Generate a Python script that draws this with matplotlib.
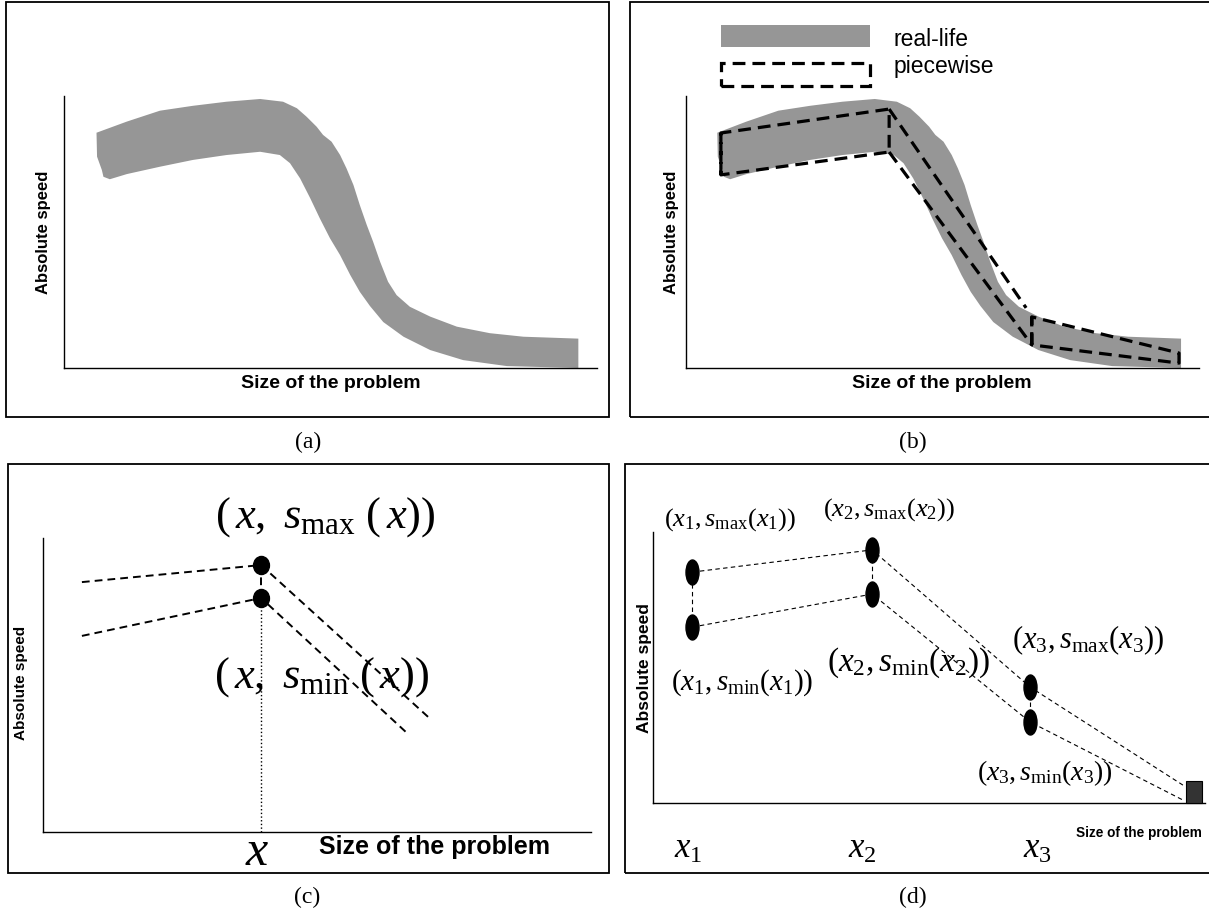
import numpy as np
import matplotlib
matplotlib.use("Agg")
from matplotlib import pyplot as plt
from matplotlib.patches import Rectangle
from matplotlib.path import Path
from matplotlib.transforms import Affine2D

plt.rcParams["mathtext.fontset"] = "custom"
plt.rcParams["mathtext.rm"] = "Liberation Serif"
plt.rcParams["mathtext.it"] = "Liberation Serif:italic"
plt.rcParams["mathtext.bf"] = "Liberation Serif:bold"

# real-life speed band (percent of axis length / height)
band_upper_x = [6.1, 11.8, 18.0, 24.2, 30.5, 36.8, 41.1, 43.7, 45.5, 47.4, 48.6, 50.2,
                51.8, 53.0, 54.3, 55.5, 56.8, 58.0, 59.3, 60.8, 62.4, 64.9, 68.7, 73.7,
                79.9, 86.2, 96.5]
band_upper_y = [86.5, 90.6, 94.6, 96.4, 97.9, 98.9, 97.9, 95.5, 92.4, 88.7, 85.7, 83.2,
                78.3, 73.4, 67.3, 59.9, 52.6, 46.4, 39.1, 31.7, 26.8, 22.5, 18.9, 15.2,
                12.8, 11.5, 10.8]
band_lower_x = [96.5, 83.1, 74.9, 68.7, 63.7, 59.9, 57.4, 55.5, 53.7, 51.8, 49.9, 48.0,
                46.2, 44.3, 42.4, 40.5, 36.8, 30.5, 24.2, 18.0, 11.8, 8.6, 7.4, 7.1, 6.2]
band_lower_y = [0.0, 0.7, 2.9, 6.6, 11.5, 16.9, 22.8, 28.0, 34.2, 41.5, 47.7, 55.0,
                62.4, 69.7, 75.3, 78.3, 79.5, 78.3, 76.5, 74.0, 71.3, 69.4, 70.3, 72.8, 77.7]

# piecewise approximation (b)
pw_left_x = [6.8, 39.6]
pw_left_hi = [86.4, 95.2]
pw_left_lo = [71.0, 79.4]
pw_mid_hi_x = [39.6, 66.3]
pw_mid_hi = [95.2, 22.1]
pw_mid_lo_x = [39.6, 67.4]
pw_mid_lo = [79.4, 8.5]
pw_right_x = [67.4, 96.1]
pw_right_hi = [18.8, 5.5]
pw_right_lo = [8.5, 1.8]

# single point (c)
c_hi_x = [7.1, 39.8, 70.3]
c_hi_y = [85.0, 90.8, 39.1]
c_lo_x = [7.1, 39.8, 66.4]
c_lo_y = [66.7, 79.6, 33.7]
c_point_x = 39.8
c_smax = 90.8
c_smin = 79.6

# three points (d)
d_x = [7.1, 39.7, 68.3, 96.0]
d_smax = [85.2, 93.4, 42.8, 6.6]
d_smin = [64.9, 77.1, 29.9, 1.1]
d_end_x = 98.05
d_end_w = 2.9
d_end_h = 8.1

W, H = 1209, 913
GRAY = "#969696"


def frac(l, t, r, b):
    return [l / W, 1 - b / H, (r - l) / W, (b - t) / H]


def frame(fig, l, t, r, b):
    x, y, w, h = frac(l, t, r, b)
    fig.add_artist(Rectangle((x, y), w, h, transform=fig.transFigure,
                             fill=False, lw=1.3, ec="black"))


def setup(ax):
    ax.set_xlim(0, 100)
    ax.set_ylim(0, 100)
    ax.set_xticks([])
    ax.set_yticks([])
    ax.patch.set_alpha(0)
    for s in ("top", "right"):
        ax.spines[s].set_visible(False)
    for s in ("left", "bottom"):
        ax.spines[s].set_linewidth(1.0)


def draw_band(ax):
    xs = band_upper_x + band_lower_x
    ys = band_upper_y + band_lower_y
    ax.fill(xs, ys, color=GRAY, lw=0, zorder=1)


ellipse_tall = Path.unit_circle().transformed(Affine2D().scale(0.52, 1.0))
ellipse_c = Path.unit_circle().transformed(Affine2D().scale(0.88, 1.0))

fig = plt.figure(figsize=(12.09, 9.13), dpi=100)

frame(fig, 6, 2, 609, 417)
frame(fig, 630, 2, 1215, 417)
frame(fig, 8, 464, 609, 873)
frame(fig, 625, 464, 1215, 873)

for label, (px, py) in zip(["(a)", "(b)", "(c)", "(d)"],
                           [(308, 442), (913, 442), (307, 897), (913, 897)]):
    fig.text(px / W, 1 - py / H, label, ha="center", va="center",
             fontsize=17, family="Liberation Serif")

sans_bold = dict(family="Liberation Sans", fontweight="bold")

# (a)
ax_a = fig.add_axes(frac(64, 96, 597, 368))
setup(ax_a)
draw_band(ax_a)
ax_a.text(50.1, -5.8, "Size of the problem", ha="center", va="center",
          fontsize=14, clip_on=False, **sans_bold)
ax_a.text(-3.8, 50, "Absolute speed", ha="center", va="center", rotation=90,
          fontsize=12, clip_on=False, **sans_bold)

# (b)
ax_b = fig.add_axes(frac(686, 96, 1199, 368))
setup(ax_b)
draw_band(ax_b)
dash_b = dict(color="black", lw=2.3, dashes=(4, 2.2), zorder=3, clip_on=False)
ax_b.plot([pw_left_x[0]] + pw_left_x + pw_left_x[::-1] + [pw_left_x[0]],
          [pw_left_lo[0]] + pw_left_hi + pw_left_lo[::-1] + [pw_left_hi[0]], **dash_b)
ax_b.plot(pw_mid_hi_x, pw_mid_hi, **dash_b)
ax_b.plot(pw_mid_lo_x, pw_mid_lo, **dash_b)
ax_b.plot([pw_right_x[0]] + pw_right_x + pw_right_x[::-1] + [pw_right_x[0]],
          [pw_right_lo[0]] + pw_right_hi + pw_right_lo[::-1] + [pw_right_hi[0]], **dash_b)
ax_b.add_patch(Rectangle((6.8, 118.0), 29.1, 8.1, color=GRAY, lw=0, clip_on=False))
ax_b.add_patch(Rectangle((6.8, 103.7), 29.1, 8.4, fill=False, ec="black",
                         lw=2.3, ls=(0, (4, 2.2)), clip_on=False))
ax_b.text(40.5, 120.6, "real-life", ha="left", va="center", fontsize=16.5,
          family="Liberation Sans", clip_on=False)
ax_b.text(40.5, 111.0, "piecewise", ha="left", va="center", fontsize=16.5,
          family="Liberation Sans", clip_on=False)
ax_b.text(49.9, -5.8, "Size of the problem", ha="center", va="center",
          fontsize=14, clip_on=False, **sans_bold)
ax_b.text(-2.9, 50, "Absolute speed", ha="center", va="center", rotation=90,
          fontsize=12, clip_on=False, **sans_bold)

# (c)
ax_c = fig.add_axes(frac(43, 538, 591, 832))
setup(ax_c)
dash_c = dict(color="black", lw=1.4, dashes=(4, 2.6))
ax_c.plot(c_hi_x, c_hi_y, **dash_c)
ax_c.plot(c_lo_x, c_lo_y, **dash_c)
ax_c.plot([c_point_x, c_point_x], [c_smin, c_smax], **dash_c)
ax_c.plot([c_point_x, c_point_x], [0, c_smin], color="black", lw=1.0, ls=":")
ax_c.plot([c_point_x, c_point_x], [c_smax, c_smin], ls="none", marker=ellipse_c,
          ms=13, color="black", zorder=4)
ax_c.text(51.5, 107.3, r"$(\,x,\ s_{\mathrm{max}}\ (\,x))$", ha="center", va="center",
          fontsize=32, clip_on=False)
ax_c.text(50.9, 52.7, r"$(\,x,\ s_{\mathrm{min}}\ (\,x))$", ha="center", va="center",
          fontsize=32, clip_on=False)
ax_c.text(39.1, -6.5, r"$x$", ha="center", va="center", fontsize=36, clip_on=False)
ax_c.text(71.4, -5.2, "Size of the problem", ha="center", va="center",
          fontsize=18, clip_on=False, **sans_bold)
ax_c.text(-4.0, 50.7, "Absolute speed", ha="center", va="center", rotation=90,
          fontsize=11, clip_on=False, **sans_bold)

# (d)
ax_d = fig.add_axes(frac(653, 532, 1205, 803))
setup(ax_d)
dash_d = dict(color="black", lw=0.8, dashes=(4, 3))
ax_d.plot(d_x, d_smax, **dash_d)
ax_d.plot(d_x, d_smin, **dash_d)
for x, hi, lo in zip(d_x[:3], d_smax[:3], d_smin[:3]):
    ax_d.plot([x, x], [lo, hi], **dash_d)
ax_d.plot(d_x[:3], d_smax[:3], ls="none", marker=ellipse_tall, ms=18,
          color="black", zorder=4)
ax_d.plot(d_x[:3], d_smin[:3], ls="none", marker=ellipse_tall, ms=18,
          color="black", zorder=4)
ax_d.bar([d_end_x], [d_end_h], width=d_end_w, color="#333333", ec="black",
         lw=0.8, zorder=4, clip_on=False)

d_labels = [
    (13.9, 104.4, r"$(x_1, s_{\mathrm{max}}(x_1))$", 19),
    (42.8, 108.1, r"$(x_2, s_{\mathrm{max}}(x_2))$", 19),
    (16.1, 44.3, r"$(x_1, s_{\mathrm{min}}(x_1))$", 21),
    (46.2, 51.7, r"$(x_2, s_{\mathrm{min}}(x_2))$", 24),
    (78.8, 60.1, r"$(x_3, s_{\mathrm{max}}(x_3))$", 22),
    (71.0, 11.1, r"$(x_3, s_{\mathrm{min}}(x_3))$", 20),
]
for x, y, s, fs in d_labels:
    ax_d.text(x, y, s, ha="center", va="center", fontsize=fs, clip_on=False)
for x, s in zip([6.3, 37.9, 69.6], [r"$x_1$", r"$x_2$", r"$x_3$"]):
    ax_d.text(x, -16.5, s, ha="center", va="center", fontsize=25, clip_on=False)
ax_d.text(88.0, -11.1, "Size of the problem", ha="center", va="center",
          fontsize=9.8, clip_on=False, **sans_bold)
ax_d.text(-1.6, 49.8, "Absolute speed", ha="center", va="center", rotation=90,
          fontsize=12.5, clip_on=False, **sans_bold)

fig.savefig("out.png", dpi=100)
